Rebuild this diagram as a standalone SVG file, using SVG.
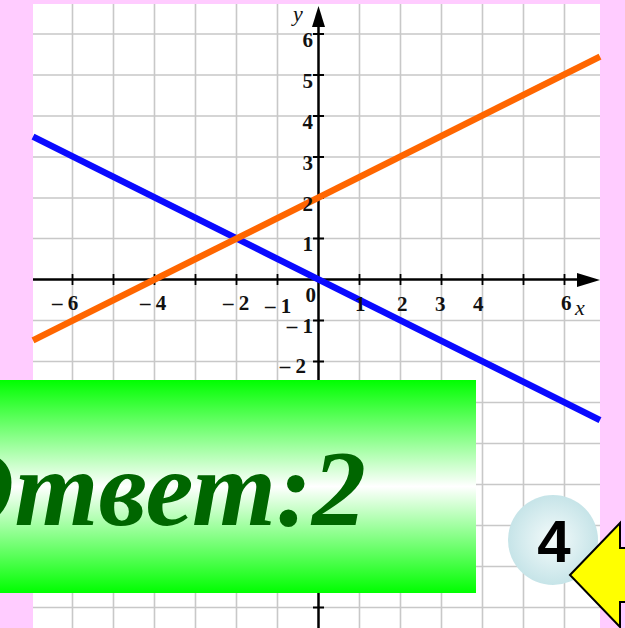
<svg xmlns="http://www.w3.org/2000/svg" width="625" height="628" viewBox="0 0 625 628">
<defs>
<style>
.grid{stroke:#c8c8c8;stroke-width:1.6;fill:none}
.axis{stroke:#000;stroke-width:2.5;fill:none}
.tick{stroke:#000;stroke-width:1.8}
.lbl{font-family:"Liberation Serif","Times New Roman",serif;font-weight:bold;font-size:21px;fill:#111}
.var{font-family:"Liberation Serif","Times New Roman",serif;font-style:italic;font-size:22px;fill:#111}
</style>
<linearGradient id="gbox" x1="0" y1="0" x2="0" y2="1">
<stop offset="0" stop-color="#00ff00"/>
<stop offset="0.5" stop-color="#ffffff"/>
<stop offset="1" stop-color="#00ff00"/>
</linearGradient>
<radialGradient id="gcirc" cx="0.5" cy="0.5" r="0.5">
<stop offset="0" stop-color="#f4fbfb"/>
<stop offset="1" stop-color="#c6e4e8"/>
</radialGradient>
</defs>
<rect x="0" y="0" width="625" height="628" fill="#ffccff"/>
<rect x="33" y="4" width="567" height="624" fill="#ffffff"/>
<g id="grid" class="grid">
<path d="M72.5 4V628M113.5 4V628M154.5 4V628M195.5 4V628M236.5 4V628M277.5 4V628M359.5 4V628M400.5 4V628M441.5 4V628M482.5 4V628M523.5 4V628M564.5 4V628"/>
<path d="M33 34H600M33 75H600M33 116H600M33 157H600M33 198H600M33 238.5H600M33 320.5H600M33 361.5H600M33 402.5H600M33 443.5H600M33 484.5H600M33 525.5H600M33 566.5H600M33 607.5H600"/>
</g>
<g id="axes">
<line class="axis" x1="33" y1="279.5" x2="585" y2="279.5"/>
<polygon points="577,273 600,280 577,287" fill="#000"/>
<line class="axis" x1="318.5" y1="628" x2="318.5" y2="20"/>
<polygon points="312,27 318.5,6 325,27" fill="#000"/>
<path class="tick" d="M72.5 274V285M113.5 274V285M154.5 274V285M195.5 274V285M236.5 274V285M277.5 274V285M359.5 274V285M400.5 274V285M441.5 274V285M482.5 274V285M523.5 274V285M564.5 274V285"/>
<path class="tick" d="M313 34H324M313 75H324M313 116H324M313 157H324M313 198H324M313 238.5H324M313 320.5H324M313 361.5H324M313 402.5H324M313 443.5H324M313 484.5H324M313 525.5H324M313 566.5H324M313 607.5H324"/>
</g>
<g id="lines" stroke-linecap="butt">
<line id="blue-line" x1="33" y1="136.7" x2="600" y2="420.2" stroke="#0a0aff" stroke-width="6.5"/>
<line id="orange-line" x1="33" y1="340.3" x2="600" y2="56.7" stroke="#ff6600" stroke-width="6.5"/>
</g>
<g id="labels">
<text class="var" x="293" y="21">y</text>
<text class="lbl" x="313" y="47" text-anchor="end">6</text>
<text class="lbl" x="313" y="88" text-anchor="end">5</text>
<text class="lbl" x="313" y="129" text-anchor="end">4</text>
<text class="lbl" x="313" y="170" text-anchor="end">3</text>
<text class="lbl" x="313" y="211" text-anchor="end">2</text>
<text class="lbl" x="313" y="251" text-anchor="end">1</text>
<text class="lbl" x="316" y="302" text-anchor="end">0</text>
<text class="lbl" x="313" y="333" text-anchor="end">– 1</text>
<text class="lbl" x="306" y="373" text-anchor="end">– 2</text>
<text class="lbl" x="52" y="310">– 6</text>
<text class="lbl" x="140" y="310">– 4</text>
<text class="lbl" x="223" y="310">– 2</text>
<text class="lbl" x="265" y="313">– 1</text>
<text class="lbl" x="355" y="311">1</text>
<text class="lbl" x="397" y="311">2</text>
<text class="lbl" x="435" y="311">3</text>
<text class="lbl" x="473" y="311">4</text>
<text class="lbl" x="561" y="310">6</text>
<text class="var" x="575" y="315">x</text>
</g>
<g id="answer">
<rect x="0" y="380" width="476" height="213" fill="url(#gbox)"/>
<text x="366" y="525" text-anchor="end" font-family="'Liberation Serif','Times New Roman',serif" font-weight="bold" font-style="italic" font-size="108" fill="#006600">Ответ:2</text>
</g>
<g id="badge">
<circle cx="553" cy="540" r="45" fill="url(#gcirc)"/>
<text x="554" y="562" text-anchor="middle" font-family="'Liberation Sans',Arial,sans-serif" font-weight="bold" font-size="60" fill="#000">4</text>
</g>
<g id="arrow">
<polygon points="570,575 620,523 620,548 640,548 640,602 620,602 620,627" fill="#ffff00" stroke="#000" stroke-width="2" stroke-linejoin="miter"/>
</g>
</svg>
